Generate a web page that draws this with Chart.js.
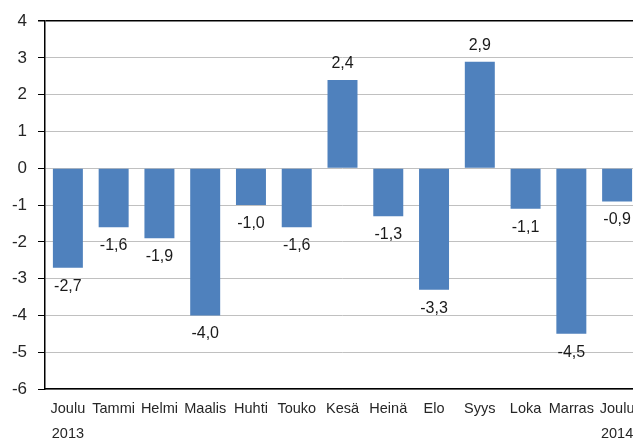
<!DOCTYPE html>
<html>
<head>
<meta charset="utf-8">
<script src="https://cdn.jsdelivr.net/npm/chart.js@4"></script>
<style>
  html, body { margin: 0; padding: 0; background: #fff; overflow: hidden; }
  #wrap { width: 640px; height: 439px; }
</style>
</head>
<body>
<div id="wrap"><canvas id="chart" width="640" height="439"></canvas></div>
<script>
// months (Dec 2013 .. Dec 2014), second line holds the year
const months = ["Joulu", "Tammi", "Helmi", "Maalis", "Huhti", "Touko", "Kesä", "Heinä", "Elo", "Syys", "Loka", "Marras", "Joulu"];
const years = ["2013", "", "", "", "", "", "", "", "", "", "", "", "2014"];
const changes = [-2.7, -1.6, -1.9, -4.0, -1.0, -1.6, 2.4, -1.3, -3.3, 2.9, -1.1, -4.5, -0.9];
const yMin = -6;
const yMax = 4;

const labels = months.map((m, i) => years[i] ? [m, years[i]] : [m]);

// draws the value next to the end of each bar, with a decimal comma
const valueLabels = {
  id: "valueLabels",
  afterDatasetsDraw(chart) {
    const ctx = chart.ctx;
    const meta = chart.getDatasetMeta(0);
    ctx.save();
    ctx.font = "16px 'Liberation Sans', Arial, sans-serif";
    ctx.fillStyle = "#1a1a1a";
    ctx.textAlign = "center";
    ctx.textBaseline = "alphabetic";
    meta.data.forEach((bar, i) => {
      const v = changes[i];
      const text = v.toFixed(1).replace(".", ",");
      const y = v >= 0 ? bar.y - 12 : bar.y + 23;
      ctx.fillText(text, bar.x, y);
    });
    ctx.restore();
  }
};

const ctx = document.getElementById("chart").getContext("2d");
new Chart(ctx, {
  type: "bar",
  data: {
    labels: labels,
    datasets: [{
      data: changes,
      backgroundColor: "#4F81BD",
      borderWidth: 0,
      barPercentage: 0.655,
      categoryPercentage: 1
    }]
  },
  options: {
    responsive: false,
    animation: false,
    layout: { padding: { top: 20, right: 0, bottom: 0, left: 0 } },
    plugins: {
      legend: { display: false },
      tooltip: { enabled: false }
    },
    scales: {
      x: {
        grid: { display: false },
        border: { display: true, color: "#000", width: 1.5 },
        ticks: {
          autoSkip: false,
          maxRotation: 0,
          padding: 0,
          color: "#262626",
          font: { family: "'Liberation Sans', Arial, sans-serif", size: 14.5, lineHeight: 1.72 }
        },
        afterFit(scale) { scale.height = 50; }
      },
      y: {
        min: yMin,
        max: yMax,
        grid: {
          color: (c) => c.tick && c.tick.value === yMax ? "#000" : "#c0c0c0",
          lineWidth: (c) => c.tick && c.tick.value === yMax ? 1.5 : 1,
          tickColor: "#000",
          tickLength: 7
        },
        border: { display: true, color: "#000", width: 1.5 },
        ticks: {
          stepSize: 1,
          padding: 11,
          color: "#262626",
          font: { family: "'Liberation Sans', Arial, sans-serif", size: 17 }
        },
        afterFit(scale) { scale.width = 45; }
      }
    }
  },
  plugins: [valueLabels]
});
</script>
</body>
</html>
